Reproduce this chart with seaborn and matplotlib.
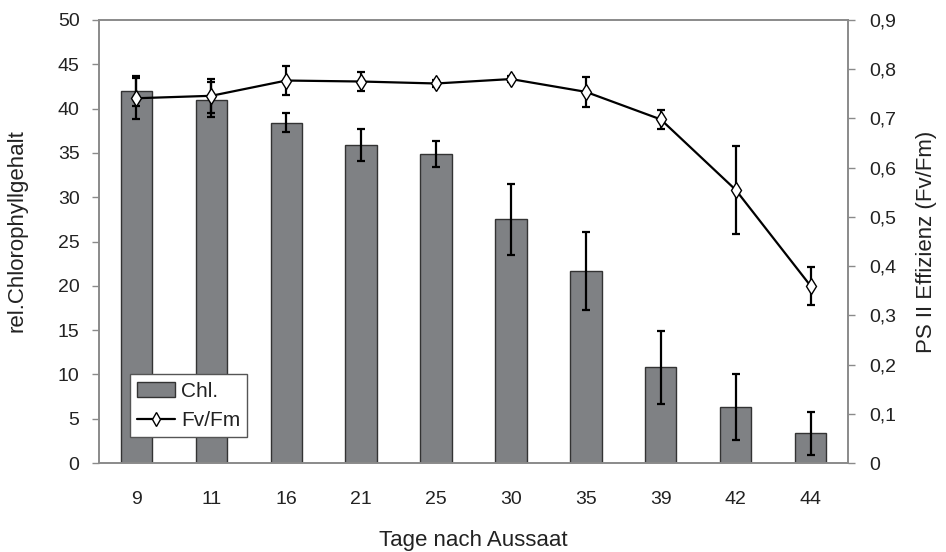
import numpy as np
import pandas as pd
import matplotlib
matplotlib.use("Agg")
import matplotlib.pyplot as plt
import seaborn as sns
from matplotlib.ticker import FuncFormatter, FixedLocator
from matplotlib.patches import Patch
from matplotlib.lines import Line2D

# Tage nach Aussaat
tage = ["9", "11", "16", "21", "25", "30", "35", "39", "42", "44"]
# relativer Chlorophyllgehalt (Mittelwert, Standardabweichung)
chl = [42.0, 41.0, 38.4, 35.9, 34.9, 27.5, 21.7, 10.8, 6.3, 3.35]
chl_sd = [1.7, 2.0, 1.05, 1.8, 1.45, 4.0, 4.4, 4.1, 3.7, 2.4]
# PS II Effizienz Fv/Fm (Mittelwert, Standardabweichung)
fvfm = [0.741, 0.746, 0.777, 0.775, 0.771, 0.780, 0.754, 0.698, 0.555, 0.360]
fvfm_sd = [0.042, 0.035, 0.030, 0.020, 0.008, 0.007, 0.030, 0.020, 0.090, 0.038]

sns.set_style("white")
plt.rcParams["font.family"] = ["Liberation Sans", "DejaVu Sans"]
text_col = "#222222"
axis_col = "#8a8a8a"
bar_col = "#7f8184"
tick_fs = 14
label_fs = 16

df = pd.DataFrame({"Tage": tage, "Chl": chl})

fig = plt.figure(figsize=(9.46, 5.52), dpi=100)
ax = fig.add_axes([0.1047, 0.1612, 0.7917, 0.8026])

sns.barplot(data=df, x="Tage", y="Chl", ax=ax, color=bar_col, saturation=1,
            width=0.42, edgecolor="#333333", linewidth=1.0, errorbar=None)
pos = np.arange(len(tage))
ax.errorbar(pos, chl, yerr=chl_sd, fmt="none", ecolor="black",
            elinewidth=1.6, capsize=3, capthick=1.6, zorder=3)

ax.set_xlim(-0.5, len(tage) - 0.5)
ax.set_ylim(0, 50)
ax.set_yticks(np.arange(0, 51, 5))

ax2 = ax.twinx()
sns.lineplot(x=pos, y=fvfm, ax=ax2, color="black", linewidth=1.6,
             marker="d", markersize=8, markerfacecolor="white",
             markeredgecolor="black", markeredgewidth=1.0, zorder=4)
ax2.errorbar(pos, fvfm, yerr=fvfm_sd, fmt="none", ecolor="black",
             elinewidth=1.6, capsize=3, capthick=1.6, zorder=3)
ax2.set_ylim(0, 0.9)
ax2.set_yticks(np.arange(0, 0.91, 0.1))
ax2.yaxis.set_major_formatter(FuncFormatter(
    lambda v, _: "0" if abs(v) < 1e-9 else f"{v:.1f}".replace(".", ",")))
ax2.set_xlim(-0.5, len(tage) - 0.5)

# x ticks between categories, labels at category centres
ax.xaxis.set_major_locator(FixedLocator(pos))
ax.set_xticklabels(tage)
ax.xaxis.set_minor_locator(FixedLocator(np.arange(0.5, len(tage) - 1, 1)))
ax.tick_params(axis="x", which="major", length=0, pad=20, labelsize=tick_fs,
               labelcolor=text_col)
ax.tick_params(axis="x", which="minor", length=5, width=1, color=axis_col,
               direction="out")
ax.tick_params(axis="y", length=5, width=1, color=axis_col, direction="out",
               labelsize=tick_fs, labelcolor=text_col, pad=9)
ax2.tick_params(axis="y", length=5, width=1, color=axis_col, direction="out",
                labelsize=tick_fs, labelcolor=text_col, pad=10)

for a in (ax, ax2):
    for s in a.spines.values():
        s.set_visible(True)
        s.set_color(axis_col)
        s.set_linewidth(1.2)

ax.set_xlabel("Tage nach Aussaat", fontsize=label_fs, color=text_col, labelpad=16)
ax.set_ylabel("rel.Chlorophyllgehalt", fontsize=label_fs, color=text_col)
ax.yaxis.set_label_coords(-0.096, 0.525)
ax2.set_ylabel("PS II Effizienz (Fv/Fm)", fontsize=label_fs, color=text_col,
               rotation=90)
ax2.yaxis.set_label_coords(1.091, 0.5)

handles = [
    Patch(facecolor=bar_col, edgecolor="#333333", linewidth=1.0),
    Line2D([0], [0], color="black", linewidth=1.6, marker="d", markersize=7,
           markerfacecolor="white", markeredgecolor="black"),
]
leg = ax2.legend(handles, ["Chl.", "Fv/Fm"], loc="lower left",
                 bbox_to_anchor=(0.041, 0.058), fontsize=15, frameon=True,
                 fancybox=False, edgecolor="#555555", framealpha=1,
                 handlelength=1.8, handletextpad=0.3, borderpad=0.35,
                 labelspacing=0.5, borderaxespad=0)
leg.get_frame().set_linewidth(1.0)
for t in leg.get_texts():
    t.set_color(text_col)

fig.savefig("out.png", dpi=100)
